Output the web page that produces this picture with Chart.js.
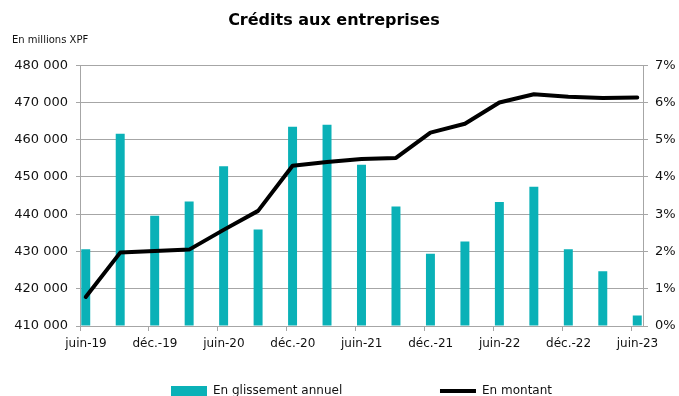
<!DOCTYPE html>
<html lang="fr">
<head>
<meta charset="utf-8">
<title>Crédits aux entreprises</title>
<script src="https://cdn.jsdelivr.net/npm/chart.js@4.4.0/dist/chart.umd.min.js"></script>
<style>
  html, body { margin: 0; padding: 0; background: #fff; overflow: hidden; }
  #chart { display: block; }
</style>
</head>
<body>
<canvas id="chart" width="679" height="407"></canvas>
<script>
/* Crédits aux entreprises - encours (axe gauche) et glissement annuel (axe droit) */
'use strict';

var TITLE = 'Crédits aux entreprises';
var UNIT = 'En millions XPF';

// trimestres, de juin-19 à juin-23
var quarters = ['juin-19', 'sept.-19', 'déc.-19', 'mars-20', 'juin-20', 'sept.-20', 'déc.-20', 'mars-21',
                'juin-21', 'sept.-21', 'déc.-21', 'mars-22', 'juin-22', 'sept.-22', 'déc.-22', 'mars-23', 'juin-23'];

// libellés de l'axe des dates (un tous les 6 mois)
var tickLabels = ['juin-19', 'déc.-19', 'juin-20', 'déc.-20', 'juin-21', 'déc.-21', 'juin-22', 'déc.-22', 'juin-23'];

// en glissement annuel, en %
var glissement = [2.06, 5.16, 2.96, 3.34, 4.29, 2.59, 5.35, 5.40, 4.33, 3.21, 1.94, 2.27, 3.33, 3.74, 2.06, 1.47, 0.28];

// en montant, millions XPF
var montant = [417800, 429700, 430100, 430500, 435800, 440900, 453000, 454000, 454800, 455100, 461900, 464300,
               470000, 472200, 471500, 471200, 471300];

var leftTicks = { min: 410000, max: 480000, step: 10000 };
var rightTicks = { min: 0, max: 7, step: 1 };

var TEAL = '#0ab1b7';
var GRID = '#a6a6a6';
var TEXT = '#111';

// date axis: one unit = one month, quarters sit in the middle of their month
function monthPos(i) { return i * 3 + 0.5; }

function points(values) {
    return values.map(function (v, i) { return { x: monthPos(i), y: v }; });
}

function fmtThousands(v) {
    return String(v).replace(/\B(?=(\d{3})+(?!\d))/g, ' ');
}

var LEGEND_GAP = new Array(24).join(' ');

var unitLabel = {
    id: 'unitLabel',
    afterDraw: function (chart) {
        var ctx = chart.ctx;
        ctx.save();
        ctx.font = '10px "DejaVu Sans", sans-serif';
        ctx.fillStyle = TEXT;
        ctx.textBaseline = 'middle';
        ctx.textAlign = 'left';
        ctx.fillText(UNIT, 12, chart.chartArea.top - 25);
        ctx.restore();
    }
};

Chart.defaults.font.family = '"DejaVu Sans", Verdana, sans-serif';
Chart.defaults.color = TEXT;

new Chart(document.getElementById('chart'), {
    type: 'bar',
    data: {
        datasets: [{
            type: 'bar',
            label: 'En glissement annuel',
            data: points(glissement),
            yAxisID: 'y1',
            backgroundColor: TEAL,
            borderWidth: 0,
            categoryPercentage: 1,
            barPercentage: 0.26,
            order: 1
        }, {
            type: 'line',
            label: 'En montant',
            data: points(montant),
            yAxisID: 'y',
            borderColor: '#000',
            backgroundColor: '#000',
            borderWidth: 4,
            borderJoinStyle: 'round',
            borderCapStyle: 'round',
            tension: 0,
            pointRadius: 0,
            order: 0
        }]
    },
    options: {
        responsive: false,
        animation: false,
        layout: { padding: 0 },
        plugins: {
            title: {
                display: true,
                text: TITLE + '  ',
                font: { size: 16, weight: 'bold' },
                color: '#000',
                padding: { top: 11, bottom: 35 }
            },
            legend: {
                position: 'bottom',
                fullSize: false,
                labels: {
                    usePointStyle: true,
                    pointStyleWidth: 36,
                    boxHeight: 10,
                    padding: 10,
                    font: { size: 12 },
                    generateLabels: function (chart) {
                        return chart.data.datasets.map(function (ds, i) {
                            var isLine = ds.type === 'line';
                            return {
                                text: isLine ? ds.label : ds.label + LEGEND_GAP,
                                fillStyle: isLine ? ds.borderColor : ds.backgroundColor,
                                strokeStyle: isLine ? ds.borderColor : ds.backgroundColor,
                                lineWidth: isLine ? 4 : 0,
                                pointStyle: isLine ? 'line' : 'rect',
                                fontColor: TEXT,
                                hidden: false,
                                datasetIndex: i
                            };
                        });
                    }
                }
            },
            tooltip: { enabled: false }
        },
        scales: {
            x: {
                type: 'linear',
                min: 0,
                max: 49,
                offset: false,
                afterFit: function (scale) { scale.height = 49; },
                grid: { offset: false, drawOnChartArea: false, color: GRID, tickLength: 5 },
                border: { color: GRID },
                ticks: {
                    stepSize: 6,
                    includeBounds: false,
                    autoSkip: false,
                    maxRotation: 0,
                    labelOffset: 6,
                    padding: 6,
                    font: { size: 12 },
                    callback: function (v) {
                        var k = Math.round(v / 6);
                        return tickLabels[k] || '';
                    }
                }
            },
            y: {
                position: 'left',
                min: leftTicks.min,
                max: leftTicks.max,
                afterFit: function (scale) { scale.width = 80; },
                grid: { color: GRID, tickLength: 4 },
                border: { color: GRID },
                ticks: {
                    stepSize: leftTicks.step,
                    padding: 8,
                    font: { size: 13 },
                    callback: function (v) { return fmtThousands(v); }
                }
            },
            y1: {
                position: 'right',
                min: rightTicks.min,
                max: rightTicks.max,
                afterFit: function (scale) { scale.width = 36; },
                grid: { drawOnChartArea: false, color: GRID, tickLength: 5 },
                border: { color: GRID },
                ticks: {
                    stepSize: rightTicks.step,
                    padding: 7,
                    font: { size: 13 },
                    callback: function (v) { return v + '%'; }
                }
            }
        }
    },
    plugins: [unitLabel]
});
</script>
</body>
</html>
